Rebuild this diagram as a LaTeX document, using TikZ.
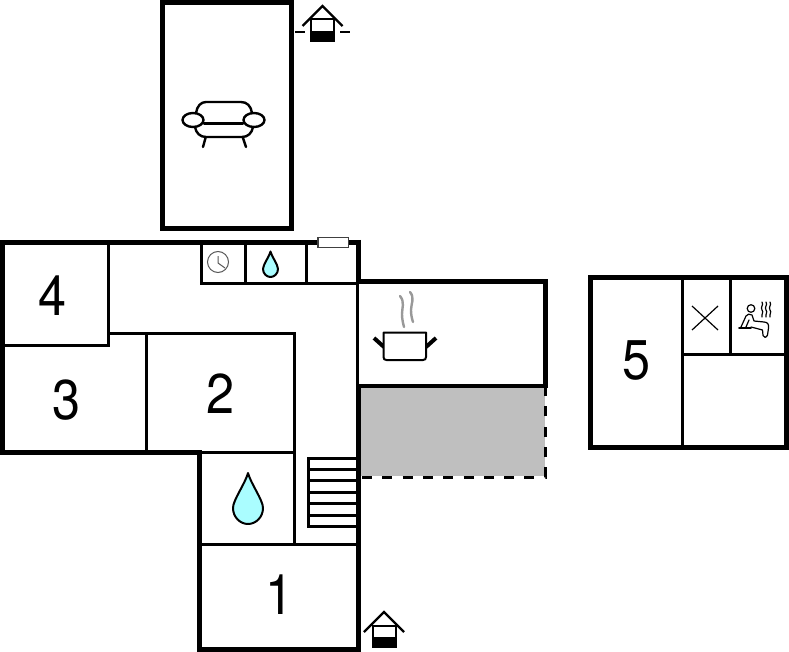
\documentclass[tikz,border=0pt]{standalone}
\usepackage{fontspec}
\setmainfont{TeX Gyre Heros}
\tikzset{
  wall/.style={line width=5pt,line cap=butt,line join=miter},
  inner wall/.style={line width=3pt,line cap=butt},
  thin wall/.style={line width=2.4pt,line cap=butt},
  digit/.style={font=\fontsize{56}{56}\selectfont,inner sep=0pt,xscale=0.9,text=black},
  icon/.style={line width=2.4pt,line cap=round,line join=round},
  houseicon/.pic={
    \draw[line width=2.4pt] (-20,20) -- (0,0) -- (20,20);
    \draw[line width=2pt,fill=white] (-11.5,13.5) rectangle (11.5,35);
    \fill (-12,25) rectangle (12,35.5);
  },
  dropicon/.pic={
    \draw[line width=2pt,fill=dropblue,line join=round]
      (0,-35) .. controls (-3,-24) and (-15,-8) .. (-15,0)
      .. controls (-15,9) and (-8,16) .. (0,16)
      .. controls (8,16) and (15,9) .. (15,0)
      .. controls (15,-8) and (3,-24) .. (0,-35) -- cycle;
  }
}
\definecolor{dropblue}{HTML}{AAFDFF}
\begin{document}
\begin{tikzpicture}[x=1pt,y=-1pt]
\useasboundingbox (0,0) rectangle (789,652);
\fill[white] (0,0) rectangle (789,652);

% grey terrace
\fill[black!25] (360,388) rectangle (545,476);
\draw[line width=3pt,dash pattern=on 10pt off 10.3pt] (362,477) -- (545,477) -- (545,388);

% top room
\draw[wall] (162.5,2.5) rectangle (291.5,228.5);

% inner walls of the main building
\draw[inner wall] (108,244) -- (108,346.5);
\draw[inner wall] (3,345) -- (109.5,345);
\draw[inner wall] (107,333) -- (295.5,333);
\draw[inner wall] (146,333) -- (146,451);
\draw[inner wall] (294,333) -- (294,545);
\draw[inner wall] (200,452.5) -- (294,452.5);
\draw[inner wall] (200,544) -- (357,544);
\draw[inner wall] (201.5,244) -- (201.5,284.5);
\draw[inner wall] (200,283) -- (357,283);
\draw[inner wall] (245,244) -- (245,283);
\draw[inner wall] (306,244) -- (306,283);
\draw[thin wall] (357.5,283) -- (357.5,385);

% stairs
\draw[inner wall] (356,458) -- (308,458) -- (308,526.5) -- (356,526.5);
\foreach \sy in {469,480.5,492,503.5,515}
  \draw[inner wall] (308,\sy) -- (356,\sy);

% outer walls of the main building
\draw[wall] (360,242.5) -- (2.5,242.5) -- (2.5,452.5) -- (202,452.5);
\draw[wall] (199,450) -- (199,649.5) -- (358,649.5) -- (358,384);
\draw[wall] (358,240) -- (358,283);
% kitchen
\draw[wall,line width=4.6pt] (356,281.5) -- (545.5,281.5) -- (545.5,386) -- (356,386);

% white window
\draw[line width=1.2pt,draw=black!75,fill=white] (318,237.5) rectangle (348.5,247.5);

% room 5
\draw[wall] (590,277) rectangle (786.5,447.5);
\draw[inner wall] (682,279) -- (682,446);
\draw[inner wall] (730,279) -- (730,354);
\draw[inner wall] (682,354) -- (785,354);

% digits
\node[digit] (n4) at (53,296) {4};
\node[digit] (n3) at (67,400) {3};
\node[digit] (n2) at (221,394) {2};
\node[digit] (n1) at (280,595) {1};
\node[digit] (n5) at (637,360) {5};

% entrance icons
\pic at (322.5,6) {houseicon};
\draw[line width=2.4pt] (295,32) -- (305,32) (340,32) -- (350,32);
\pic at (384,612) {houseicon};

% sofa
\draw[icon] (196,113) .. controls (197,106) and (201,102) .. (206,102) -- (241,102)
  .. controls (247,102) and (251,106) .. (252,113);
\draw[icon] (204,123.5) -- (243,123.5);
\draw[icon] (195,127) .. controls (196,133) and (200,137) .. (206,137) -- (242,137)
  .. controls (248,137) and (252,133) .. (253,127);
\draw[icon] (193,120) ellipse (10.5 and 7);
\draw[icon] (254,120) ellipse (10.5 and 7);
\draw[icon] (205.5,138) -- (203,147);
\draw[icon] (243,138) -- (246,147);

% clock
\draw[line width=1pt,draw=black!65] (218,262) circle (10.5);
\draw[line width=1pt,draw=black!65] (218,256) -- (218,263) -- (225,268);

% drops
\pic at (248,508) {dropicon};
\pic[scale=0.5] at (270.5,269) {dropicon};

% pot
\draw[line width=4pt,line cap=butt] (374,338) -- (384,347);
\draw[line width=4pt,line cap=butt] (436,338) -- (426,347);
\draw[icon,line width=2pt,fill=white] (383.5,332.5) -- (426,332.5) -- (426,357) .. controls (426,359) and (425,360) .. (423,360)
  -- (386.5,360) .. controls (384.5,360) and (383.5,359) .. (383.5,357) -- cycle;
\draw[line width=2.4pt,draw=black!40,line cap=round]
  (400,296) .. controls (405,302) and (402,308) .. (402,314) .. controls (402,319) and (403,323) .. (404,327);
\draw[line width=2.4pt,draw=black!40,line cap=round]
  (410,292) .. controls (415,298) and (411,304) .. (411,310) .. controls (411,315) and (412,319) .. (413,322);

% cross
\draw[line width=1.2pt] (692,306) -- (718,330) (718,306) -- (692,330);

% sauna
\begin{scope}[line width=1.2pt,line join=round,line cap=round]
\draw (751,308.5) circle (3.8);
\draw[line width=1.6pt] (739,328) -- (751,328);
\draw (741,327) -- (746,316) .. controls (747,314) and (750,313.5) .. (752,315) -- (754,321) -- (764,322)
  .. controls (768,322) and (769,325) .. (768.5,328) -- (767.5,335) .. controls (766.5,338) and (763.5,338) .. (763,335.5)
  -- (762.5,330) -- (751,327);
\draw (746,327) -- (749,320);
\foreach \wx in {762,766,770}
  \draw (\wx,302) .. controls (\wx+2,305) and (\wx-2,307) .. (\wx,310) .. controls (\wx+2,312) and (\wx-1,315) .. (\wx,317);
\end{scope}
\end{tikzpicture}
\end{document}
